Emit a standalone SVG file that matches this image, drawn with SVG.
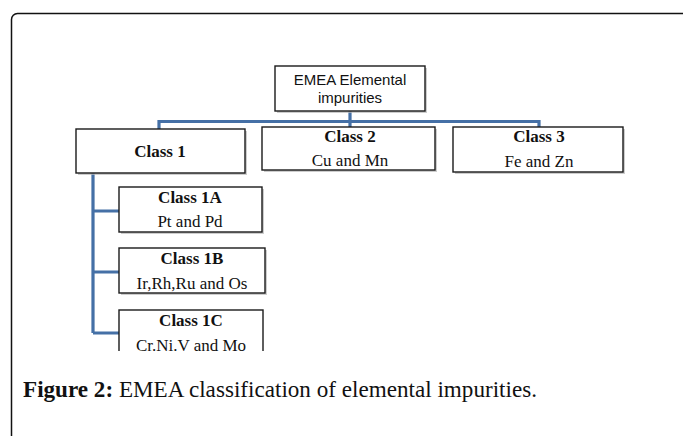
<svg xmlns="http://www.w3.org/2000/svg" width="683" height="436" viewBox="0 0 683 436">
<defs>
<style>
.box{fill:#fff;stroke:#1a1a1a;stroke-width:1.4}
.shadow{fill:#b8b8b8;opacity:0.7}
.conn{fill:none;stroke:#4570a6;stroke-width:3.2;stroke-linejoin:miter}
.title{font-family:"Liberation Serif",serif;font-weight:bold;font-size:17px;text-anchor:middle;fill:#111}
.body{font-family:"Liberation Serif",serif;font-size:17px;text-anchor:middle;fill:#111}
.sans{font-family:"Liberation Sans",Arial,sans-serif;font-size:15px;text-anchor:middle;fill:#111}
.cap{font-family:"Liberation Serif",serif;font-size:22.5px;fill:#111}
</style>
<clipPath id="crop"><rect x="0" y="0" width="683" height="351"/></clipPath>
</defs>
<rect width="683" height="436" fill="#fff"/>
<rect x="11.5" y="13.5" width="680" height="440" rx="6" fill="none" stroke="#111" stroke-width="1.5"/>
<g clip-path="url(#crop)">
<g id="connectors">
<path class="conn" d="M350 111 V121.5 M159 129 V121.5 H539 V127 M350 121.5 V127"/>
<path class="conn" d="M93 173 V333 M93 211 H119 M93 272 H119 M93 333 H119"/>
</g>
<g id="root">
<rect class="shadow" x="277" y="68" width="150" height="45"/>
<rect class="box" x="275" y="66" width="150" height="45"/>
<text class="sans" x="350" y="85">EMEA Elemental</text>
<text class="sans" x="350" y="103">impurities</text>
</g>
<g id="class1">
<rect class="shadow" x="78" y="131" width="169" height="44"/>
<rect class="box" x="76" y="129" width="169" height="44"/>
<text class="title" x="160" y="157">Class 1</text>
</g>
<g id="class2">
<rect class="shadow" x="264" y="129" width="173" height="43"/>
<rect class="box" x="262" y="127" width="173" height="43"/>
<text class="title" x="350" y="142">Class 2</text>
<text class="body" x="350" y="166">Cu and Mn</text>
</g>
<g id="class3">
<rect class="shadow" x="455" y="129" width="170" height="45"/>
<rect class="box" x="453" y="127" width="170" height="45"/>
<text class="title" x="539" y="142">Class 3</text>
<text class="body" x="539" y="167">Fe and Zn</text>
</g>
<g id="class1a">
<rect class="shadow" x="121" y="189" width="143" height="45"/>
<rect class="box" x="119" y="187" width="143" height="45"/>
<text class="title" x="190" y="203">Class 1A</text>
<text class="body" x="190" y="227">Pt and Pd</text>
</g>
<g id="class1b">
<rect class="shadow" x="121" y="250" width="146" height="45"/>
<rect class="box" x="119" y="248" width="146" height="45"/>
<text class="title" x="192" y="264">Class 1B</text>
<text class="body" x="192" y="289">Ir,Rh,Ru and Os</text>
</g>
<g id="class1c">
<rect class="box" x="119" y="310" width="144" height="60"/>
<text class="title" x="191" y="326">Class 1C</text>
<text class="body" x="191" y="351">Cr.Ni.V and Mo</text>
</g>
</g>
<text class="cap" x="23" y="397" textLength="514" lengthAdjust="spacingAndGlyphs"><tspan font-weight="bold">Figure 2:</tspan> EMEA classification of elemental impurities.</text>
</svg>
